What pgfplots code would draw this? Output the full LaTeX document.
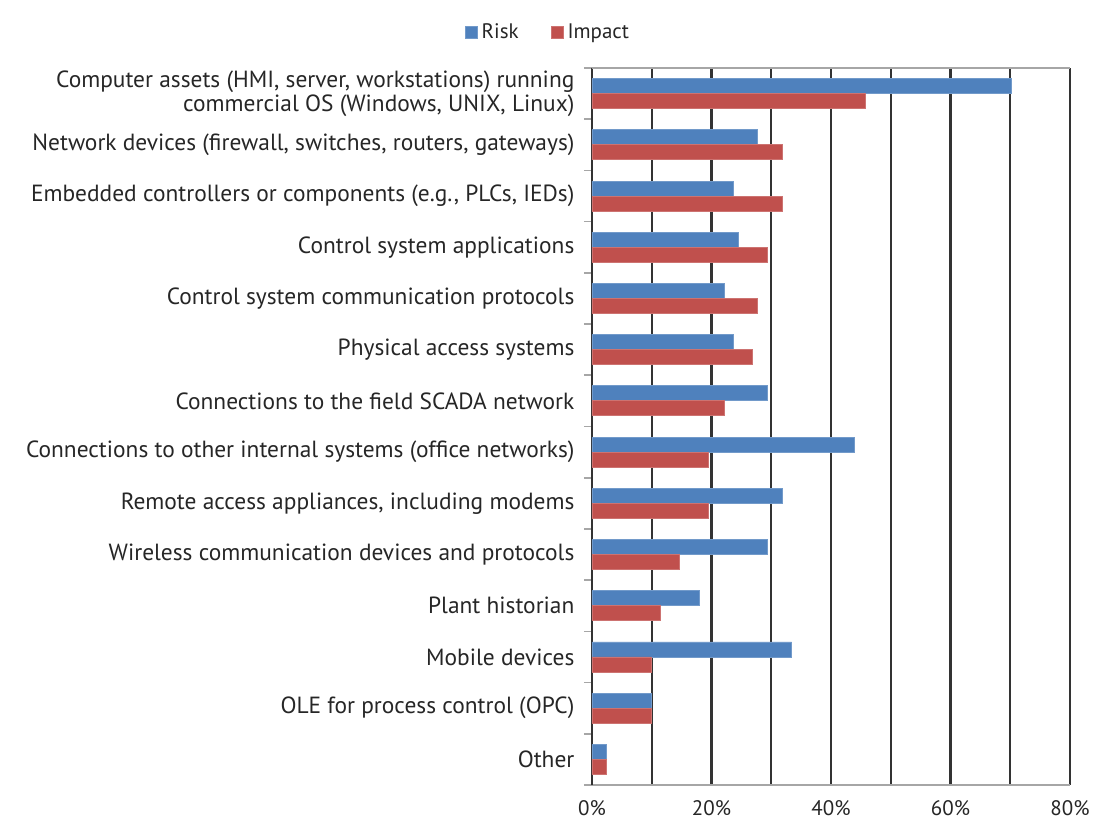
\documentclass[border=0pt]{standalone}
\usepackage{fontspec}
\setmainfont{PT Sans}
\usepackage{pgfplots}
\pgfplotsset{compat=1.18}
\definecolor{riskblue}{HTML}{4F81BD}
\definecolor{impactred}{HTML}{C0504D}
\definecolor{gridgray}{HTML}{333333}
\definecolor{txt}{HTML}{262626}

% categories listed bottom (0) to top (13)
\pgfplotstableread{
y risk impact
0  2.4  2.4
1  9.9  9.9
2  33.4 9.9
3  18.0 11.5
4  29.3 14.7
5  31.9 19.5
6  44.0 19.5
7  29.3 22.1
8  23.6 26.8
9  22.1 27.7
10 24.5 29.3
11 23.6 31.9
12 27.7 31.9
13 70.2 45.7
}\survey

\begin{document}
\begin{tikzpicture}
\begin{axis}[
  scale only axis,
  width=239pt, height=358.5pt,
  xbar, bar width=7.5pt,
  xmin=0, xmax=80,
  ymin=-0.5, ymax=13.5,
  axis x line=bottom, axis y line=left,
  axis line style={draw=gray!70, line width=0.8pt},
  x axis line style={-},
  y axis line style={-, draw=gridgray, line width=1.1pt},
  xtick={0,10,...,80},
  xticklabels={0\%,,20\%,,40\%,,60\%,,80\%},
  xmajorgrids, grid style={draw=gridgray, line width=1.1pt},
  major x tick style={draw=none},
  ytick={0,...,13},
  yticklabels={Other, OLE for process control (OPC), Mobile devices, Plant historian,
    Wireless communication devices and protocols,
    {Remote access appliances, including modems},
    Connections to other internal systems (office networks),
    Connections to the field SCADA network,
    Physical access systems,
    Control system communication protocols,
    Control system applications,
    {Embedded controllers or components (e.g., PLCs, IEDs)},
    {Network devices (firewall, switches, routers, gateways)},
    {Computer assets (HMI, server, workstations) running\\commercial OS (Windows, UNIX, Linux)}},
  yticklabel style={align=right, font=\fontsize{11.7}{12.3}\selectfont, text=txt, xshift=-1pt},
  xticklabel style={font=\fontsize{10.5}{12}\selectfont, text=txt},
  /pgf/number format/assume math mode=true,
  major y tick style={draw=none},
  minor ytick={-0.5,0.5,...,13.5},
  minor y tick style={draw=gray!70, line width=0.8pt},
  minor tick length=4pt,
  tick align=outside,
  clip=false,
  legend columns=2,
  legend style={at={(-0.09,1.049)}, anchor=center, draw=none, fill=none,
    font=\fontsize{10.5}{12}\selectfont, text=txt,
    /tikz/every even column/.append style={column sep=14pt}},
  legend image code/.code={\fill[#1] (0pt,-3pt) rectangle (6pt,3pt);},
]
\addplot[fill=riskblue, draw=riskblue!80!white, bar shift=3.75pt] table[x=risk, y=y] {\survey};
\addlegendentry{Risk}
\addplot[fill=impactred, draw=impactred!80!white, bar shift=-3.75pt] table[x=impact, y=y] {\survey};
\addlegendentry{Impact}
\draw[gray!70, line width=0.8pt] (rel axis cs:0,1) -- (rel axis cs:1,1);
\end{axis}
\path[use as bounding box] (-296pt,-18.5pt) rectangle (253pt,392.5pt);
\end{tikzpicture}
\end{document}
